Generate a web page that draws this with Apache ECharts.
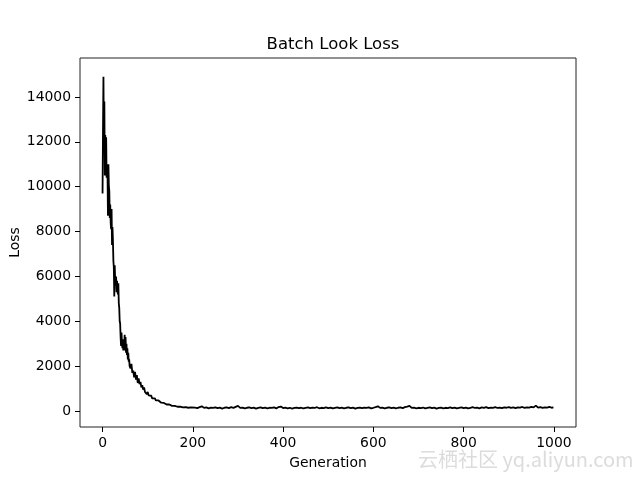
<!DOCTYPE html>
<html>
<head>
<meta charset="utf-8">
<script src="https://cdn.jsdelivr.net/npm/echarts@6/dist/echarts.min.js"></script>
<style>html,body{margin:0;padding:0;background:#fff}#c{width:640px;height:480px}</style>
</head>
<body>
<div id="c"></div>
<script>
const titleText = 'Batch Look Loss';
const xName = 'Generation';
const yName = 'Loss';
const xTicks = [0, 200, 400, 600, 800, 1000];
const yTicks = [0, 2000, 4000, 6000, 8000, 10000, 12000, 14000];

const genEarly = [0,1,2,3,4,5,6,7,8,9,10,11,12,13,14,15,16,17,18,19,20,21,22,23,24,25,26,27,28,29,30,31,32,33,34,35,36,37,38,39,40,41,42,43,44,45,46,47,48,49,50,51,52,53,54,55,56,57,58,59,60];
const lossEarly = [9700,12500,14900,11800,13800,10500,12300,11200,12200,10400,11000,10600,8700,11000,10000,9800,8600,9200,8400,8100,9000,7400,8200,7600,6700,6400,5100,6500,5800,5600,6000,5300,5800,5500,5200,5700,4800,4600,4000,3900,3300,2900,3500,3000,2800,3200,2700,3100,2900,3400,2700,3300,2600,3000,2500,2800,2300,2600,2200,2300,2000];

const genMid = [62,64,66,68,70,72,74,76,78,80,82,84,86,88,90,92,94,96,98,100,102,104,106,108,110,112,114,116,118,120,122,124,126,128,130,132,134,136,138,140,142,144,146,148,150,152,154,156,158,160,162,164,166,168,170,172,174,176,178,180,182,184,186,188,190,192,194,196,198,200];
const lossMid = [1900,2100,1700,1800,1500,1750,1400,1600,1250,1450,1200,1300,1050,1150,950,1050,850,900,750,850,700,750,620,680,560,620,520,560,470,500,430,470,400,430,370,400,340,360,310,330,290,300,260,290,240,260,230,250,210,230,200,220,190,205,180,195,170,185,160,175,155,170,150,165,145,170,150,160,140,155];

const genLate = [205,210,215,220,225,230,235,240,245,250,255,260,265,270,275,280,285,290,295,300,305,310,315,320,325,330,335,340,345,350,355,360,365,370,375,380,385,390,395,400,405,410,415,420,425,430,435,440,445,450,455,460,465,470,475,480,485,490,495,500,505,510,515,520,525,530,535,540,545,550,555,560,565,570,575,580,585,590,595,600,605,610,615,620,625,630,635,640,645,650,655,660,665,670,675,680,685,690,695,700,705,710,715,720,725,730,735,740,745,750,755,760,765,770,775,780,785,790,795,800,805,810,815,820,825,830,835,840,845,850,855,860,865,870,875,880,885,890,895,900,905,910,915,920,925,930,935,940,945,950,955,960,965,970,975,980,985,990,995,999];
const lossLate = [150,130,175,210,140,160,120,150,135,165,125,150,110,145,160,130,170,140,185,230,140,155,120,145,160,125,150,110,140,165,130,150,120,145,135,160,115,175,200,130,150,120,145,110,135,155,125,145,115,140,160,125,150,135,170,120,145,130,160,125,150,115,140,165,130,150,120,145,160,125,150,110,140,155,125,150,135,160,120,145,175,210,140,155,120,145,165,130,150,115,145,160,130,170,195,230,140,150,120,145,130,155,115,140,160,125,150,110,135,155,120,145,130,160,125,150,115,140,165,130,155,120,145,170,135,150,120,160,140,175,130,155,140,170,135,155,125,160,145,175,140,160,130,165,150,180,140,165,150,185,160,240,150,175,140,165,150,180,145,160];

const gens = genEarly.concat(genMid, genLate);
const losses = lossEarly.concat(lossMid, lossLate);
const seriesData = gens.map((g, i) => [g, losses[i]]);

const FONT = 'DejaVu Sans';
const plain = v => String(v);
const chart = echarts.init(document.getElementById('c'), null, {renderer: 'canvas'});
chart.setOption({
  animation: false,
  backgroundColor: '#fff',
  title: {
    text: titleText,
    left: 328, top: 31, textAlign: 'center',
    textStyle: {fontFamily: FONT, fontSize: 16.5, fontWeight: 'normal', color: '#000'}
  },
  grid: {left: 80, right: 64, top: 58, bottom: 53, show: true, borderColor: '#222', borderWidth: 1,
         backgroundColor: 'transparent', containLabel: false, outerBoundsMode: 'none'},
  xAxis: {
    type: 'value', min: -49.95, max: 1048.95,
    name: xName, nameLocation: 'middle', nameGap: 29, nameMoveOverlap: false,
    nameTextStyle: {fontFamily: FONT, fontSize: 13.9, color: '#000'},
    axisLine: {show: false, onZero: false},
    axisTick: {show: true, length: 5, lineStyle: {color: '#000', width: 1}, customValues: xTicks},
    axisLabel: {fontFamily: FONT, fontSize: 13.9, color: '#000', margin: 9, customValues: xTicks, formatter: plain},
    splitLine: {show: false}
  },
  yAxis: {
    type: 'value', min: -713, max: 15737,
    name: yName, nameLocation: 'middle', nameGap: 58, nameRotate: 90, nameMoveOverlap: false,
    nameTextStyle: {fontFamily: FONT, fontSize: 13.9, color: '#000'},
    axisLine: {show: false, onZero: false},
    axisTick: {show: true, length: 5, lineStyle: {color: '#000', width: 1}, customValues: yTicks},
    axisLabel: {fontFamily: FONT, fontSize: 13.9, color: '#000', margin: 9, customValues: yTicks, formatter: plain},
    splitLine: {show: false}
  },
  series: [{
    type: 'line', data: seriesData, showSymbol: false, symbol: 'none',
    lineStyle: {color: '#000', width: 1.8}, silent: true
  }],
  graphic: [{
    type: 'text', left: 418, top: 449,
    style: {text: '云栖社区 yq.aliyun.com', fill: '#dcdcdc', font: '20px "Noto Sans CJK SC", "DejaVu Sans"'}
  }]
});
</script>
</body>
</html>
